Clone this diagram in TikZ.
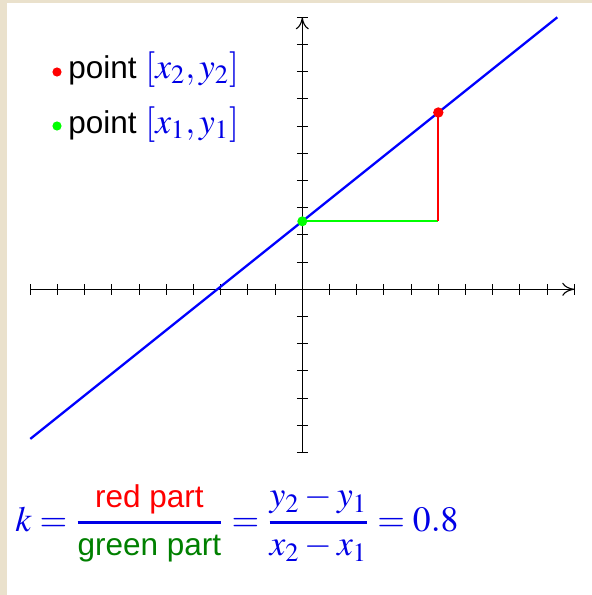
\documentclass[tikz,border=0pt]{standalone}
\usepackage{mathptmx}
\usepackage[no-math]{fontspec}
\setmainfont{Liberation Sans}
\usepackage{amsmath}
\usetikzlibrary{arrows.meta}
\definecolor{bg}{RGB}{234,225,204}
\definecolor{dgreen}{RGB}{0,128,0}
\definecolor{lgreen}{RGB}{0,255,0}
\definecolor{mblue}{RGB}{0,0,230}
\newcommand{\sanstext}[1]{\text{\fontsize{15.75}{19}\selectfont #1}}
\newcommand{\bigmath}[1]{{\fontsize{17.8}{21}\selectfont$#1$}}
\begin{document}
\begin{tikzpicture}[x=0.5pt,y=-0.5pt,font=\fontsize{15.75}{19}\selectfont,
  axisline/.style={line width=0.55pt,black},
  tickmark/.style={line width=0.55pt,black},
  dotmark/.style={circle,inner sep=0pt,minimum size=#1},
  legendtext/.style={anchor=base west,inner sep=0pt}]
\fill[bg] (0,0) rectangle (592,595);
\fill[white] (7,3) rectangle (592,595);
\useasboundingbox (0,0) rectangle (592,595);
\begin{scope}[shift={(151.15pt,-144.65pt)},x=13.6pt,y=13.6pt]
  \coordinate (xl) at (-10,0);
  \coordinate (xr) at (10,0);
  \coordinate (yb) at (0,-6);
  \coordinate (yt) at (0,10);
  \draw[axisline,-{To[length=6pt,width=6.5pt]}] (xl) -- (xr);
  \draw[axisline,-{To[length=6pt,width=6.5pt]}] (yb) -- (yt);
  \foreach \i in {-10,...,10} \draw[tickmark] (\i,-0.2) -- (\i,0.2);
  \foreach \j in {-6,...,10} \draw[tickmark] (-0.2,\j) -- (0.2,\j);
  \coordinate (ls) at (-10,-5.5);
  \coordinate (le) at (9.375,10);
  \draw[blue,line width=1.15pt] (ls) -- (le);
  \coordinate (corner) at (5,2.5);
  \node[dotmark=5pt] (p1) at (0,2.5) {};
  \node[dotmark=5pt] (p2) at (5,6.5) {};
  \draw[lgreen,line width=1pt] (p1.center) -- (corner);
  \draw[red,line width=1pt] (corner) -- (p2.center);
  \fill[lgreen] (p1.center) circle (2.5pt);
  \fill[red] (p2.center) circle (2.6pt);
\end{scope}
\node[dotmark=4.6pt,fill=red] (d2) at (57,72) {};
\node[legendtext] (t2) at (68,78.5) {point \textcolor{mblue}{\bigmath{[x_2,y_2]}}};
\node[dotmark=4.6pt,fill=lgreen] (d1) at (57,126) {};
\node[legendtext] (t1) at (68,133) {point \textcolor{mblue}{\bigmath{[x_1,y_1]}}};
\node[anchor=base west,inner sep=0pt,text=mblue] (eq) at (15,531.5)
 {\bigmath{\displaystyle k=\genfrac{}{}{1.2pt}{0}{\textcolor{red}{\sanstext{red part}}}{\textcolor{dgreen}{\sanstext{green part}}}=\genfrac{}{}{1.2pt}{0}{y_2-y_1}{x_2-x_1}=0.8}};
\end{tikzpicture}
\end{document}
